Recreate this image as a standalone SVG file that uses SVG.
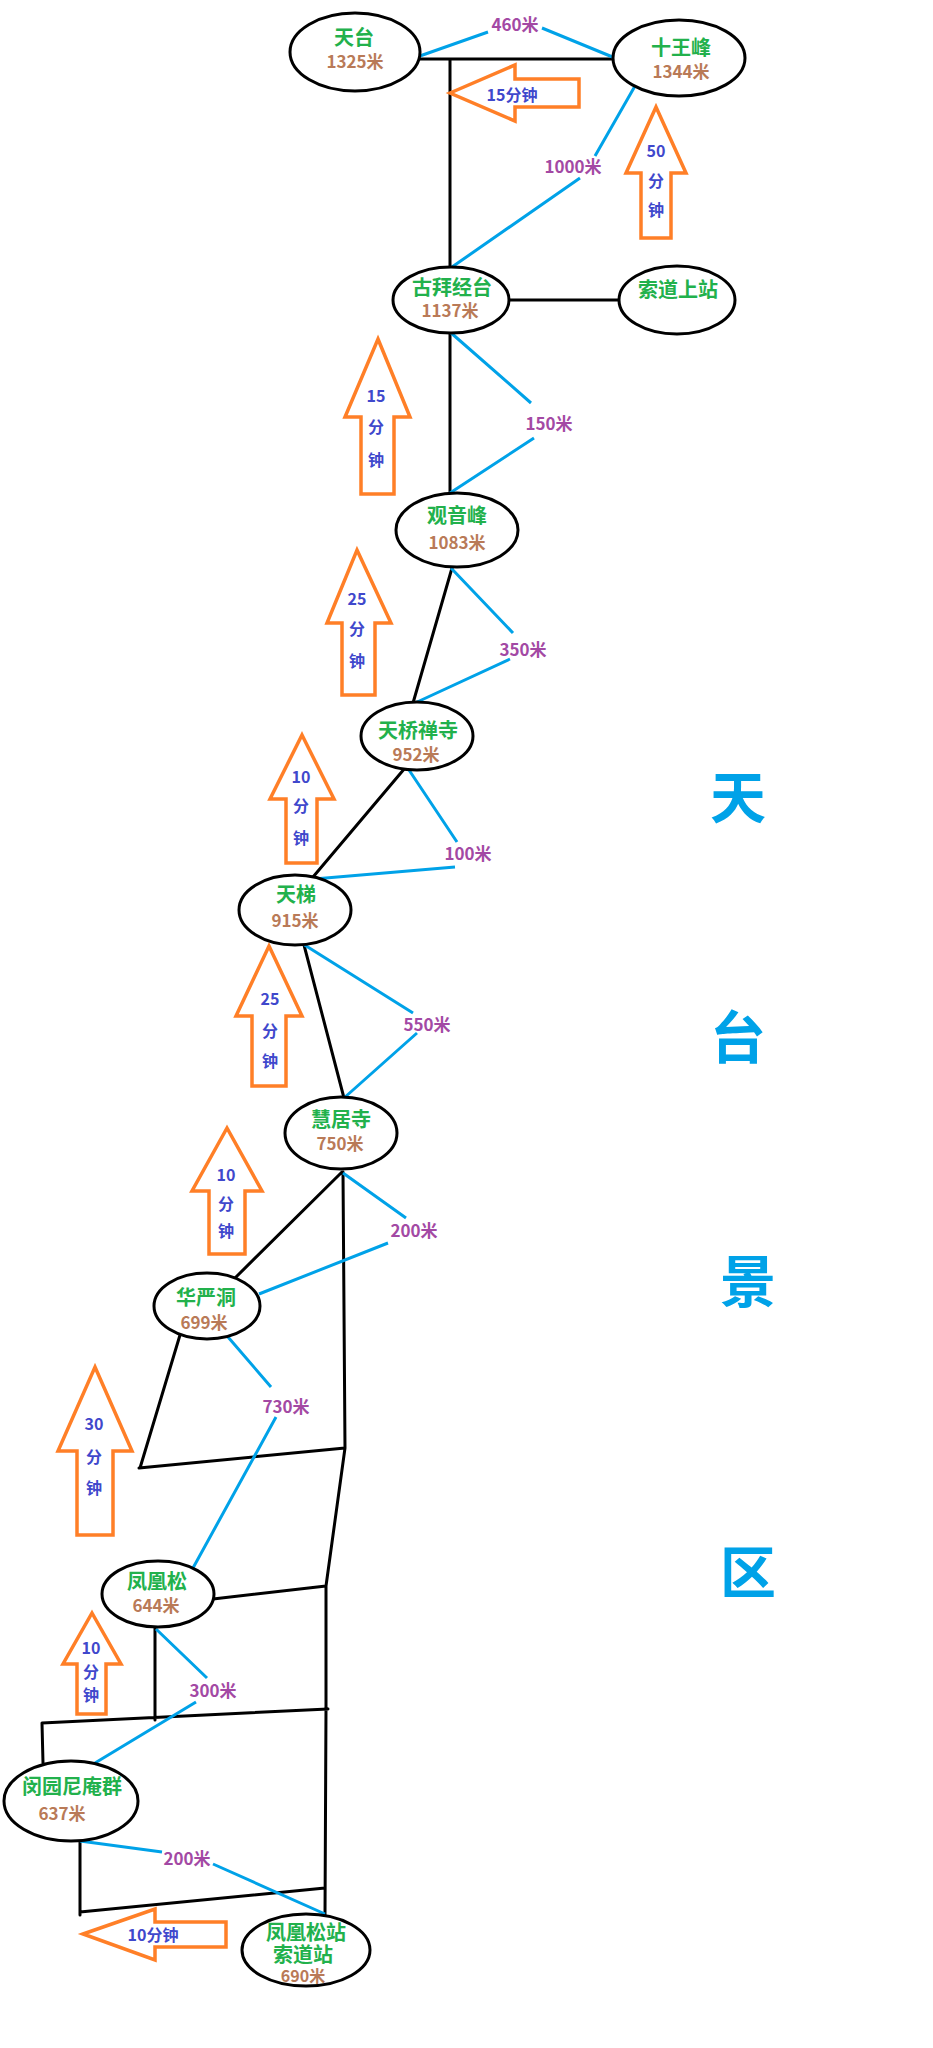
<svg xmlns="http://www.w3.org/2000/svg" width="933" height="2048" viewBox="0 0 933 2048">
<style>
.node{fill:#fff;stroke:#000;stroke-width:3}
.blk{stroke:#000;stroke-width:3;fill:none;stroke-linecap:round}
.blu{stroke:#00a2e8;stroke-width:3;fill:none}
.arr{fill:#fff;stroke:#ff7f27;stroke-width:3.5;stroke-linejoin:miter}
text{font-family:"Noto Sans CJK SC","Noto Sans",sans-serif;font-weight:bold;text-anchor:middle}
.nm{font-size:20px;fill:#22b14c}
.el{font-size:17px;fill:#b97a57}
.dist{font-size:17px;fill:#a349a4}
.tm{font-size:16px;fill:#3f48cc}
.big{font-size:56px;fill:#00a2e8}
</style>
<rect width="933" height="2048" fill="#fff"/>
<g id="connectors">
<path class="blk" d="M418 59 L615 59 M450 59 L450 267 M508 300 L619 300 M450 332 L450 493 M452 568 L413 703 M405 768 L313 877 M304 945 L344 1098 M342 1172 L235 1278 M343 1172 L345 1448 M180 1335 L140 1468 M139 1468 L345 1448 M345 1448 L326 1586 M213 1599 L326 1586 M326 1586 L326 1709 M155 1628 L155 1720 M42 1723 L328 1709 M42 1723 L43 1763 M326 1709 L325 1915 M80 1842 L80 1915 M80 1912 L325 1888"/>
<path class="blu" d="M417 57 L488 32 M542 28 L615 58 M635 86 L595 156 M580 178 L452 267 M450 332 L531 403 M534 438 L450 493 M451 568 L513 633 M510 659 L415 703 M407 767 L457 842 M455 867 L314 879 M303 944 L413 1013 M417 1033 L344 1098 M343 1173 L406 1218 M388 1243 L259 1294 M228 1337 L271 1387 M276 1417 L193 1568 M156 1629 L207 1678 M196 1702 L95 1763 M80 1841 L162 1852 M213 1864 L325 1914"/>
<text class="dist" x="515" y="31">460米</text>
<text class="dist" x="573" y="173">1000米</text>
<text class="dist" x="549" y="430">150米</text>
<text class="dist" x="523" y="656">350米</text>
<text class="dist" x="468" y="860">100米</text>
<text class="dist" x="427" y="1031">550米</text>
<text class="dist" x="414" y="1237">200米</text>
<text class="dist" x="286" y="1413">730米</text>
<text class="dist" x="213" y="1697">300米</text>
<text class="dist" x="187" y="1865">200米</text>
</g>
<g id="arrows">
<polygon class="arr" points="450,93 515,65 515,79 579,79 579,107 515,107 515,121"/>
<text class="tm" x="512" y="101">15分钟</text>
<polygon class="arr" points="656,107 686,173 671,173 671,238 641,238 641,173 626,173"/>
<text class="tm" x="656" y="157">50</text><text class="tm" x="656" y="187">分</text><text class="tm" x="656" y="216">钟</text>
<polygon class="arr" points="378,339 410,417 394,417 394,494 361,494 361,417 345,417"/>
<text class="tm" x="376" y="402">15</text><text class="tm" x="376" y="433">分</text><text class="tm" x="376" y="466">钟</text>
<polygon class="arr" points="357,550 391,623 375,623 375,695 342,695 342,623 327,623"/>
<text class="tm" x="357" y="605">25</text><text class="tm" x="357" y="635">分</text><text class="tm" x="357" y="667">钟</text>
<polygon class="arr" points="302,735 334,799 317,799 317,863 286,863 286,799 270,799"/>
<text class="tm" x="301" y="783">10</text><text class="tm" x="301" y="812">分</text><text class="tm" x="301" y="844">钟</text>
<polygon class="arr" points="269,946 302,1016 286,1016 286,1086 252,1086 252,1016 236,1016"/>
<text class="tm" x="270" y="1005">25</text><text class="tm" x="270" y="1037">分</text><text class="tm" x="270" y="1067">钟</text>
<polygon class="arr" points="227,1128 262,1191 245,1191 245,1254 209,1254 209,1191 192,1191"/>
<text class="tm" x="226" y="1181">10</text><text class="tm" x="226" y="1210">分</text><text class="tm" x="226" y="1237">钟</text>
<polygon class="arr" points="95,1367 132,1451 113,1451 113,1535 77,1535 77,1451 58,1451"/>
<text class="tm" x="94" y="1430">30</text><text class="tm" x="94" y="1463">分</text><text class="tm" x="94" y="1494">钟</text>
<polygon class="arr" points="92,1613 121,1664 106,1664 106,1714 77,1714 77,1664 63,1664"/>
<text class="tm" x="91" y="1654">10</text><text class="tm" x="91" y="1678">分</text><text class="tm" x="91" y="1701">钟</text>
<polygon class="arr" points="83,1934 155,1909 155,1922 226,1922 226,1947 155,1947 155,1960"/>
<text class="tm" x="153" y="1941">10分钟</text>
</g>
<g id="n-tiantai"><ellipse class="node" cx="355" cy="52" rx="65" ry="39"/><text class="nm" x="354" y="45">天台</text><text class="el" x="355" y="68">1325米</text></g>
<g id="n-shiwangfeng"><ellipse class="node" cx="679" cy="58" rx="66" ry="38"/><text class="nm" x="681" y="55">十王峰</text><text class="el" x="681" y="78">1344米</text></g>
<g id="n-gubaijingtai"><ellipse class="node" cx="451" cy="300" rx="58" ry="33"/><text class="nm" x="452" y="295">古拜经台</text><text class="el" x="450" y="317">1137米</text></g>
<g id="n-suodaoshangzhan"><ellipse class="node" cx="677" cy="300" rx="58" ry="34"/><text class="nm" x="678" y="297">索道上站</text></g>
<g id="n-guanyinfeng"><ellipse class="node" cx="457" cy="530" rx="61" ry="37"/><text class="nm" x="457" y="523">观音峰</text><text class="el" x="457" y="549">1083米</text></g>
<g id="n-tianqiaochansi"><ellipse class="node" cx="417" cy="736" rx="56" ry="34"/><text class="nm" x="418" y="738">天桥禅寺</text><text class="el" x="416" y="761">952米</text></g>
<g id="n-tianti"><ellipse class="node" cx="295" cy="910" rx="56" ry="35"/><text class="nm" x="296" y="902">天梯</text><text class="el" x="295" y="927">915米</text></g>
<g id="n-huijusi"><ellipse class="node" cx="341" cy="1133" rx="56" ry="36"/><text class="nm" x="341" y="1127">慧居寺</text><text class="el" x="340" y="1150">750米</text></g>
<g id="n-huayandong"><ellipse class="node" cx="207" cy="1306" rx="53" ry="33"/><text class="nm" x="206" y="1305">华严洞</text><text class="el" x="204" y="1329">699米</text></g>
<g id="n-fenghuangsong"><ellipse class="node" cx="158" cy="1594" rx="56" ry="33"/><text class="nm" x="157" y="1589">凤凰松</text><text class="el" x="156" y="1612">644米</text></g>
<g id="n-minyuan"><ellipse class="node" cx="71" cy="1801" rx="67" ry="40"/><text class="nm" x="72" y="1794">闵园尼庵群</text><text class="el" x="62" y="1820">637米</text></g>
<g id="n-fenghuangsongzhan"><ellipse class="node" cx="306" cy="1950" rx="64" ry="36"/><text class="nm" x="306" y="1940">凤凰松站</text><text class="nm" x="303" y="1962">索道站</text><text class="el" x="303" y="1982" style="font-size:16px">690米</text></g>
<g id="title">
<text class="big" x="738" y="818">天</text>
<text class="big" x="738" y="1058">台</text>
<text class="big" x="748" y="1302">景</text>
<text class="big" x="748" y="1593">区</text>
</g>
</svg>
